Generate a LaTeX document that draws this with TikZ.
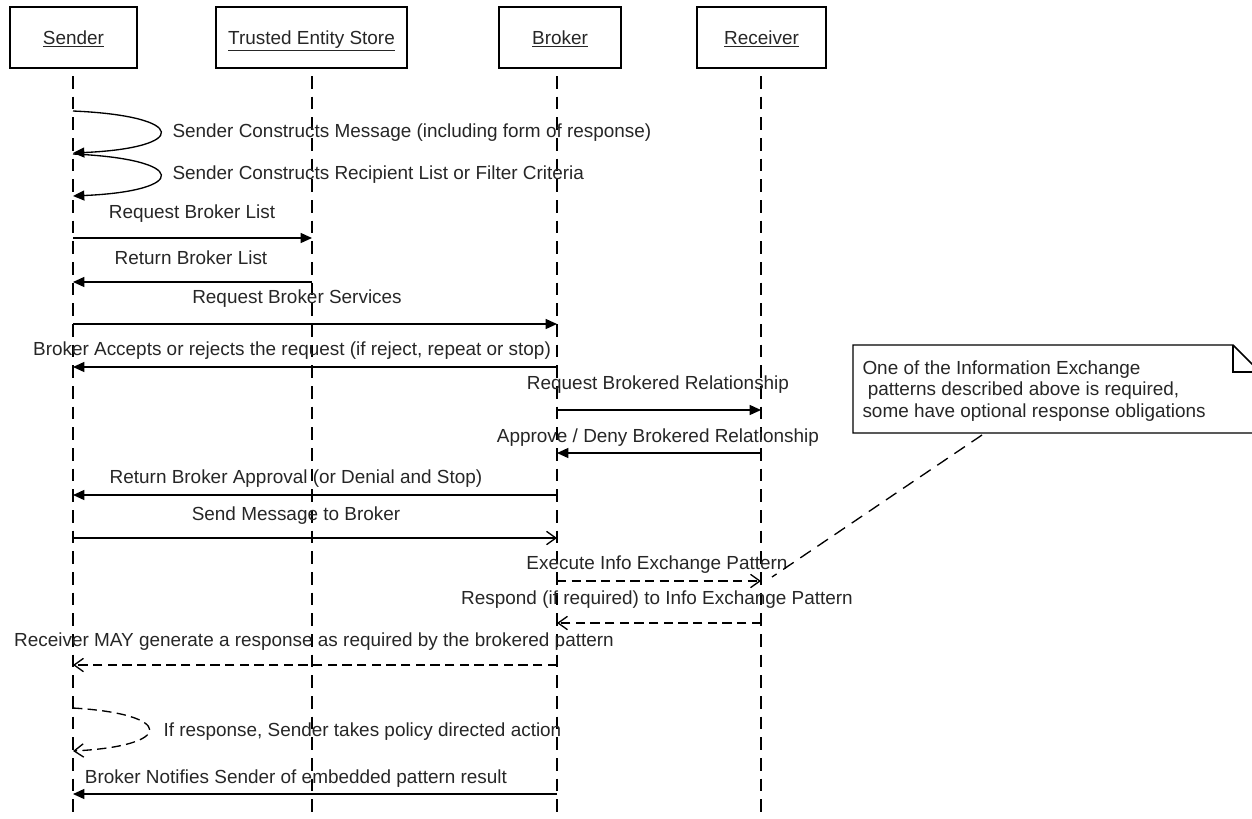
\documentclass[tikz,border=0pt]{standalone}
\usepackage{fontspec}
\setmainfont{Liberation Sans}
\usetikzlibrary{arrows.meta}

\newcommand{\seqfont}{\fontsize{14.2pt}{16.2pt}\selectfont}

\tikzset{every picture/.style={line width=0.75pt}}
\tikzset{
  lifebox/.style={draw, line width=1.1pt, minimum height=45.75pt, inner sep=0pt, text depth=0pt, font=\seqfont, text=black!85},
  lifeline/.style={line width=1pt, dash pattern=on 9.5pt off 6pt},
  syncmsg/.style={line width=1pt, -{Triangle[length=8.5pt,width=7.5pt]}},
  asyncmsg/.style={line width=1pt, -{Straight Barb[length=7pt,width=10pt]}},
  replymsg/.style={asyncmsg, dash pattern=on 7pt off 4pt},
  lbl/.style={inner sep=0pt, anchor=base, font=\seqfont, text=black!85},
}

\begin{document}
\begin{tikzpicture}[x=0.75pt,y=0.75pt,yscale=-1,xscale=1]
\clip (0,0) rectangle (1252,818);

%Shape: Rectangle (lifeline heads)
\node[lifebox, minimum width=95.25pt] (snd) at (73.5,37.5) {\underline{Sender}};
\node[lifebox, minimum width=143.25pt] (tes) at (311.5,37.5) {\underline{Trusted Entity Store}};
\node[lifebox, minimum width=91.5pt] (brk) at (560,37.5) {\underline{Broker}};
\node[lifebox, minimum width=96.75pt] (rcv) at (761.5,37.5) {\underline{Receiver}};

%Straight Lines (lifelines)
\coordinate (snd-l) at (73,76);
\coordinate (tes-l) at (312,76);
\coordinate (brk-l) at (557,76);
\coordinate (rcv-l) at (761,76);
\draw[lifeline] (snd-l) -- (snd-l |- 0,818);
\draw[lifeline] (tes-l) -- (tes-l |- 0,818);
\draw[lifeline] (brk-l) -- (brk-l |- 0,818);
\draw[lifeline] (rcv-l) -- (rcv-l |- 0,818);

%Curve Lines (self messages)
\draw[syncmsg] (snd-l |- 0,111) .. controls (189,116) and (189,148) .. (snd-l |- 0,153);
\draw[syncmsg] (snd-l |- 0,154) .. controls (189,159) and (189,191) .. (snd-l |- 0,196);

%Straight Lines (messages)
\draw[syncmsg] (snd-l |- 0,238) -- (tes-l |- 0,238);
\draw[syncmsg] (tes-l |- 0,282) -- (snd-l |- 0,282);
\draw[syncmsg] (snd-l |- 0,324) -- (brk-l |- 0,324);
\draw[syncmsg] (brk-l |- 0,367) -- (snd-l |- 0,367);
\draw[syncmsg] (brk-l |- 0,410) -- (rcv-l |- 0,410);
\draw[syncmsg] (rcv-l |- 0,453) -- (brk-l |- 0,453);
\draw[syncmsg] (brk-l |- 0,495) -- (snd-l |- 0,495);
\draw[asyncmsg] (snd-l |- 0,538) -- (brk-l |- 0,538);
\draw[replymsg] (brk-l |- 0,581) -- (rcv-l |- 0,581);
\draw[replymsg] (rcv-l |- 0,623) -- (brk-l |- 0,623);
\draw[replymsg] (brk-l |- 0,665) -- (snd-l |- 0,665);
\draw[replymsg] (snd-l |- 0,708) .. controls (175,714) and (175,746) .. (snd-l |- 0,751);
\draw[syncmsg] (brk-l |- 0,794) -- (snd-l |- 0,794);

% Text Node
\node[lbl, anchor=base west] (m1) at (172,137.5) {Sender Constructs Message (including form of response)};
% Text Node
\node[lbl, anchor=base west] (m2) at (172,179.5) {Sender Constructs Recipient List or Filter Criteria};
% Text Node
\node[lbl] (m3) at (192,218.5) {Request Broker List};
% Text Node
\node[lbl] (m4) at (191,264.5) {Return Broker List};
% Text Node
\node[lbl] (m5) at (297,303.5) {Request Broker Services};
% Text Node
\node[lbl] (m6) at (292,355.5) {Broker Accepts or rejects the request (if reject, repeat or stop)};
% Text Node
\node[lbl] (m7) at (658,389.5) {Request Brokered Relationship};
% Text Node
\node[lbl] (m8) at (658,442.5) {Approve / Deny Brokered Relationship};
% Text Node
\node[lbl] (m9) at (296,483.5) {Return Broker Approval (or Denial and Stop)};
% Text Node
\node[lbl] (m10) at (296,520.5) {Send Message to Broker};
% Text Node
\node[lbl] (m11) at (657,569.5) {Execute Info Exchange Pattern};
% Text Node
\node[lbl] (m12) at (657,604.5) {Respond (if required) to Info Exchange Pattern};
% Text Node
\node[lbl] (m13) at (314,646.5) {Receiver MAY generate a response as required by the brokered pattern};
% Text Node
\node[lbl, anchor=base west] (m14) at (163,736.5) {If response, Sender takes policy directed action};
% Text Node
\node[lbl] (m15) at (296,783.5) {Broker Notifies Sender of embedded pattern result};

%Shape: Note
\draw[line width=1.1pt] (853,345) -- (1233,345) -- (1260,372) -- (1260,433) -- (853,433) -- cycle;
\draw[line width=1.1pt] (1233,345) -- (1233,372) -- (1260,372);
% Text Node
\node[inner sep=0pt, anchor=north west, align=left, font=\seqfont, text=black!85] (note) at (862,360)
  {One of the Information Exchange\\\ patterns described above is required,\\some have optional response obligations};

%Straight Lines (note anchor)
\coordinate (note-foot) at (982,435);
\coordinate (note-tip) at (772,577);
\draw[lifeline] (note-foot) -- (note-tip);

\end{tikzpicture}
\end{document}
